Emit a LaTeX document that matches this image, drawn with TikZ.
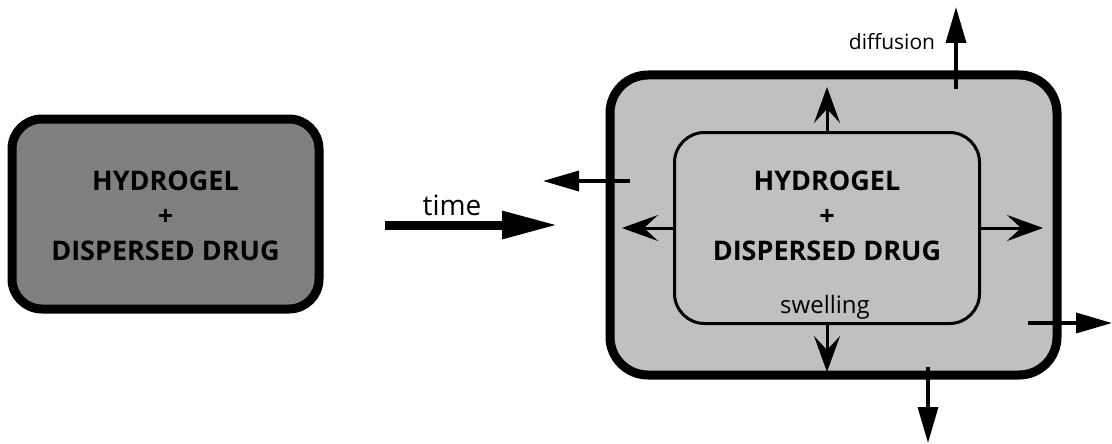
\documentclass[tikz,border=0pt]{standalone}
\usepackage{fontspec}
\setmainfont{Open Sans}
\usepackage{xcolor}
\definecolor{Col1}{RGB}{127,127,127}
\definecolor{Col2}{RGB}{192,192,192}
\usepackage{tikz}
\usetikzlibrary{arrows.meta}
\tikzstyle{Gel}=[rectangle,rounded corners=30pt,draw=black,line width=9pt,
inner sep=0pt]
\tikzstyle{NodeTitle}=[align=center,inner sep=0pt,
font=\fontsize{27}{35}\selectfont\bfseries]
\tikzstyle{NodeST}=[anchor=base,inner sep=0pt,font=\fontsize{21}{25}\selectfont]
\tikzstyle{Time}=[draw=black,line width=9pt,-{Triangle[length=56pt,width=26pt]}]
\tikzstyle{Diffusion}=[line width=3.5pt,-{Triangle[length=36pt,width=20pt]}]
\tikzstyle{Swelling}=[line width=3pt,-{Stealth[length=36pt,width=26pt,inset=14pt]}]

\begin{document}
\begin{tikzpicture}[x=1pt,y=-1pt]
        \useasboundingbox(0,0)rectangle(1112,444);
        % dry gel
        \node[Gel,fill=Col1,minimum width=307pt,minimum height=190pt](0)
            at(165.5,214){};
        \node[NodeTitle](1)at(165.5,216){HYDROGEL\\+\\DISPERSED DRUG};
        % swollen gel
        \node[Gel,fill=Col2,rounded corners=38pt,minimum width=447pt,
            minimum height=300pt](2)at(833.5,225){};
        \node[Gel,fill=Col2,line width=3pt,minimum width=305pt,
            minimum height=191pt](3)at(827,228){};
        \node[NodeTitle](4)at(827,216){HYDROGEL\\+\\DISPERSED DRUG};
        \node[NodeST,font=\fontsize{24}{28}\selectfont](5)at(825,313){swelling};
        \node[NodeST](6)at(892,50){diffusion};
        \node[NodeST,font=\fontsize{28}{30}\selectfont](7)at(452,215){time};
        % time
        \coordinate(t0)at(385,225);
        \coordinate(t1)at(558,225);
        \draw[Time](t0)--(t1);
        % swelling
        \coordinate(s1)at(827,87);
        \coordinate(s2)at(827,372);
        \coordinate(s3)at(622,228);
        \coordinate(s4)at(1043,228);
        \draw[Swelling](3.north)--(s1);
        \draw[Swelling](3.south)--(s2);
        \draw[Swelling](3.west)--(s3);
        \draw[Swelling](3.east)--(s4);
        % diffusion
        \coordinate(d0)at(956,89);
        \coordinate(d1)at(956,7);
        \coordinate(d2)at(630,181);
        \coordinate(d3)at(543,181);
        \coordinate(d4)at(1028,323);
        \coordinate(d5)at(1112,323);
        \coordinate(d6)at(928,367);
        \coordinate(d7)at(928,443);
        \draw[Diffusion](d0)--(d1);
        \draw[Diffusion](d2)--(d3);
        \draw[Diffusion](d4)--(d5);
        \draw[Diffusion](d6)--(d7);
    \end{tikzpicture}
\end{document}
